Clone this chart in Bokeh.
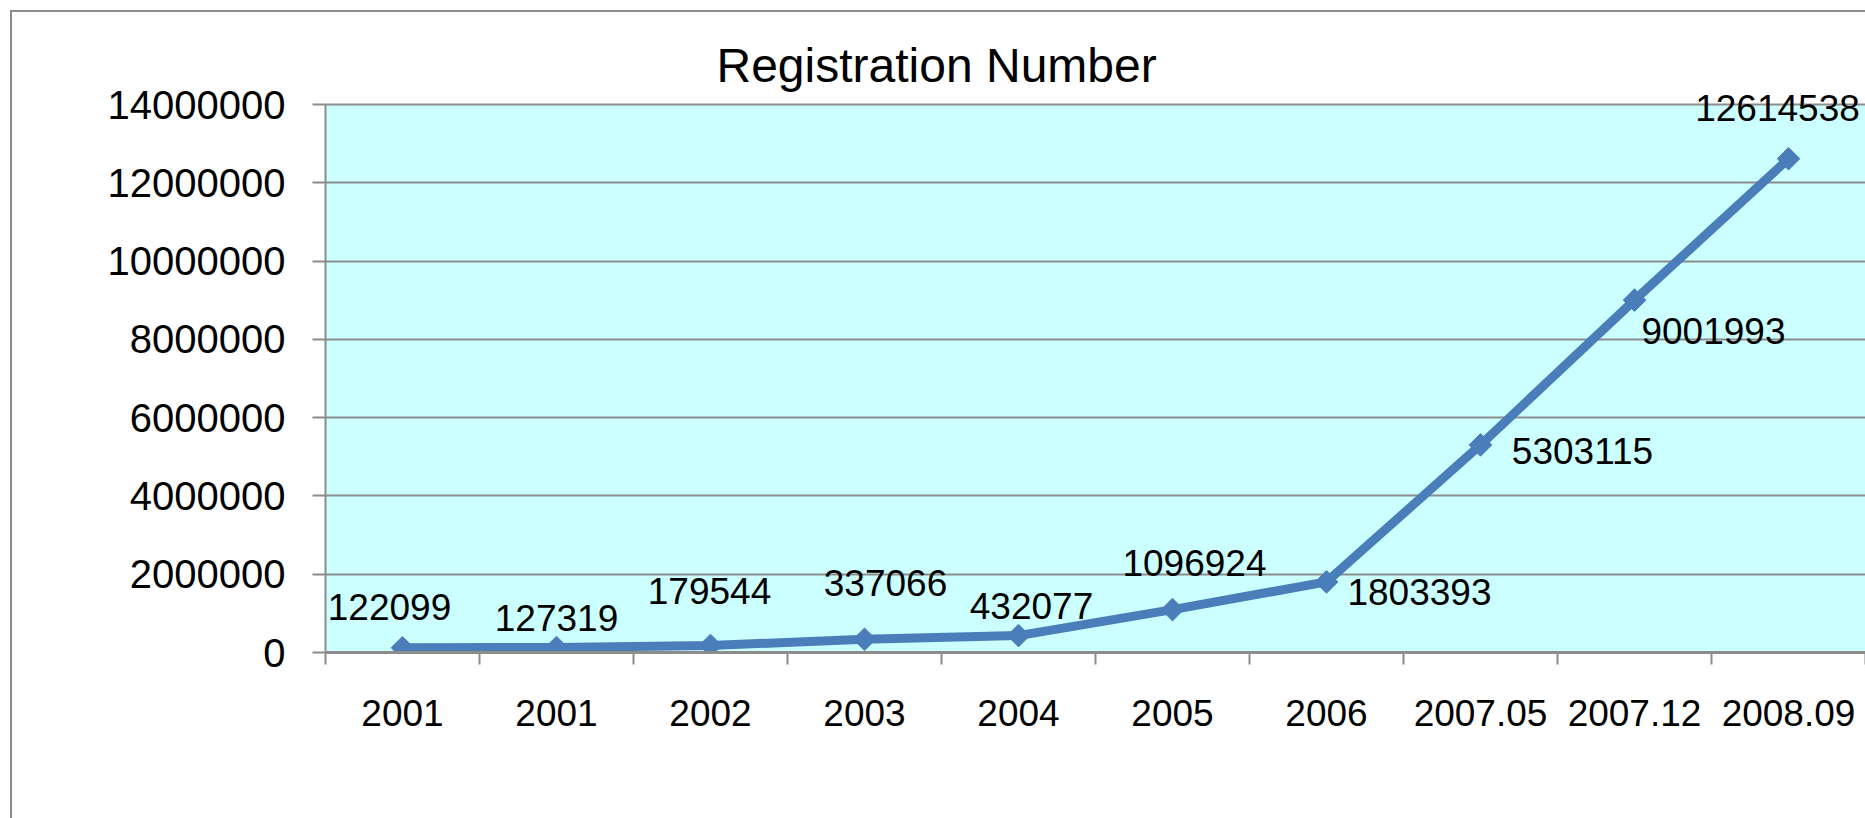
import math
from bokeh.plotting import figure
from bokeh.models import (Range1d, FixedTicker, ColumnDataSource, LabelSet, BoxAnnotation,
                          NumeralTickFormatter, InlineStyleSheet)
from bokeh.core.properties import value
from bokeh.embed import file_html
from bokeh.resources import INLINE

# ---- data ----
categories = ["2001", "2001", "2002", "2003", "2004", "2005", "2006",
              "2007.05", "2007.12", "2008.09"]
registrations = [122099, 127319, 179544, 337066, 432077, 1096924, 1803393,
                 5303115, 9001993, 12614538]
y_ticks = [0, 2000000, 4000000, 6000000, 8000000, 10000000, 12000000, 14000000]
title_text = "Registration Number"

# ---- label placement (screen px offsets, styling only) ----
label_dx = [-13, 0, -1, 21, 13, 22, 93, 102, 79, -11]
label_dy = [41, 30, 54, 56, 30, 47, -10, -6, -31, 51]

FONT = "Liberation Sans"
GRAY = "#8c8c8c"
BLUE = "#4A7EBB"
CYAN = "#CCFFFF"

W, H = 1865, 818
PLOT_LEFT, PLOT_TOP, PLOT_BOTTOM = 325, 104, 652   # plot area in page px
FRAME_TOP = 91                                    # frame reaches a bit higher so top label is not clipped

n = len(categories)
xs = [i + 1 for i in range(n)]
y_top = y_ticks[-1]
y_end = y_top * (PLOT_BOTTOM - FRAME_TOP) / (PLOT_BOTTOM - PLOT_TOP)

border_css = InlineStyleSheet(css="""
:host::after {
  content: "";
  position: absolute;
  left: 10px; top: 10px; right: 0; bottom: 0;
  border-left: 2px solid #8c8c8c;
  border-top: 2px solid #8c8c8c;
  pointer-events: none;
}
""")

p = figure(width=W, height=H, output_backend="svg", toolbar_location=None,
           x_range=Range1d(0.5, n + 0.5), y_range=Range1d(0, y_end),
           min_border_left=PLOT_LEFT, min_border_right=0, min_border_top=FRAME_TOP,
           min_border_bottom=H - PLOT_BOTTOM, stylesheets=[border_css])
p.background_fill_color = "white"
p.border_fill_color = "white"
p.outline_line_color = None

# cyan plot area (0 .. top tick)
p.add_layout(BoxAnnotation(bottom=0, top=y_top, fill_color=CYAN, fill_alpha=1,
                           line_color=None, level="image"))

# title
p.title.text = title_text
p.title.align = "left"
p.title.offset = 391
p.title.standoff = 0
p.title.text_font = FONT
p.title.text_font_size = "48px"
p.title.text_font_style = "normal"
p.title.text_color = "black"

# y axis
p.yaxis.ticker = FixedTicker(ticks=y_ticks)
p.yaxis.bounds = (0, y_top)
p.yaxis.formatter = NumeralTickFormatter(format="0")
p.yaxis.axis_line_color = GRAY
p.yaxis.axis_line_width = 2
p.yaxis.major_tick_line_color = GRAY
p.yaxis.major_tick_line_width = 2
p.yaxis.major_tick_out = 13
p.yaxis.major_tick_in = 0
p.yaxis.minor_tick_line_color = None
p.yaxis.major_label_text_font = FONT
p.yaxis.major_label_text_font_size = "40px"
p.yaxis.major_label_text_color = "black"
p.yaxis.major_label_standoff = 27

# x axis: labels at category centres, tick marks at category boundaries
p.xaxis.ticker = FixedTicker(ticks=xs, minor_ticks=[i + 0.5 for i in range(n + 1)])
p.xaxis.major_label_overrides = {x: c for x, c in zip(xs, categories)}
p.xaxis.axis_line_color = GRAY
p.xaxis.axis_line_width = 3
p.xaxis.major_tick_line_color = None
p.xaxis.major_tick_out = 0
p.xaxis.major_tick_in = 0
p.xaxis.minor_tick_line_color = GRAY
p.xaxis.minor_tick_line_width = 2
p.xaxis.minor_tick_out = 12
p.xaxis.minor_tick_in = 0
p.xaxis.major_label_text_font = FONT
p.xaxis.major_label_text_font_size = "37px"
p.xaxis.major_label_text_color = "black"
p.xaxis.major_label_standoff = 35

p.xgrid.grid_line_color = None
p.ygrid.ticker = FixedTicker(ticks=y_ticks)
p.ygrid.grid_line_color = GRAY
p.ygrid.grid_line_width = 2

# series
p.line(xs, registrations, line_color=BLUE, line_width=9)
p.scatter(xs, registrations, marker="square", angle=math.pi / 4, size=16,
          fill_color=BLUE, line_color=BLUE)

src = ColumnDataSource(dict(x=xs, y=registrations,
                            text=[str(v) for v in registrations],
                            dx=label_dx, dy=label_dy))
p.add_layout(LabelSet(x="x", y="y", text="text", x_offset="dx", y_offset="dy",
                      source=src, text_align="center", text_baseline="middle",
                      text_font=value(FONT), text_font_size=value("37px"),
                      text_color="black"))

open("out.html", "w").write(file_html(p, INLINE))
